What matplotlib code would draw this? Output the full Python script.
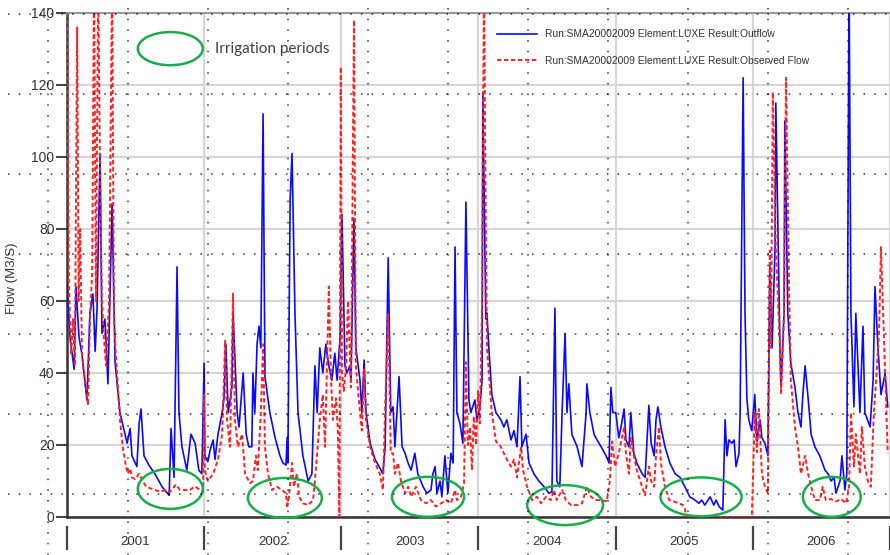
import matplotlib
matplotlib.use("Agg")
import matplotlib.pyplot as plt
from matplotlib.lines import Line2D
from matplotlib.patches import Ellipse
import pandas as pd

# days counted from 2001-01-01
years = [2001, 2002, 2003, 2004, 2005, 2006]

outflow_day = [0, 8, 19, 24, 32, 40, 53, 61, 69, 75, 80, 88, 93, 101, 109, 120, 128, 141, 160, 168,
               173, 186, 192, 197, 205, 218, 234, 253, 272, 277, 285, 293, 298, 306, 319, 330, 341, 351, 359, 365,
               367, 375, 381, 389, 394, 402, 413, 418, 423, 429, 439, 442, 453, 458, 469, 477, 484, 492, 495, 500,
               506, 511, 516, 522, 527, 540, 554, 567, 575, 583, 586, 588, 594, 599, 607, 615, 628, 642, 652, 660,
               666, 673, 681, 689, 697, 705, 713, 719, 727, 732, 740, 745, 753, 756, 764, 769, 780, 785, 791, 796,
               807, 820, 831, 841, 847, 855, 862, 868, 873, 884, 892, 900, 908, 916, 926, 934, 948, 958, 969, 974,
               980, 985, 993, 998, 1006, 1014, 1022, 1028, 1033, 1038, 1046, 1054, 1062, 1070, 1075, 1086, 1091, 1099, 1105, 1107,
               1115, 1118, 1123, 1131, 1142, 1155, 1163, 1171, 1182, 1190, 1198, 1206, 1211, 1222, 1230, 1243, 1256, 1270, 1283, 1291,
               1299, 1304, 1312, 1318, 1326, 1331, 1336, 1344, 1358, 1371, 1382, 1384, 1392, 1403, 1411, 1422, 1435, 1443, 1448, 1453,
               1461, 1469, 1475, 1483, 1488, 1496, 1501, 1509, 1517, 1531, 1539, 1549, 1555, 1563, 1568, 1573, 1581, 1592, 1605, 1619,
               1632, 1645, 1658, 1672, 1682, 1690, 1698, 1712, 1722, 1728, 1736, 1746, 1752, 1757, 1762, 1770, 1776, 1781, 1789, 1792,
               1800, 1805, 1810, 1815, 1823, 1831, 1837, 1845, 1850, 1858, 1866, 1871, 1877, 1885, 1887, 1898, 1901, 1909, 1911, 1919,
               1927, 1938, 1946, 1954, 1959, 1965, 1973, 1981, 1991, 2004, 2018, 2026, 2034, 2042, 2047, 2058, 2063, 2071, 2076, 2082,
               2087, 2095, 2100, 2111, 2119, 2124, 2138, 2146, 2151, 2159, 2167, 2178, 2185]
outflow = [65, 50, 41, 64, 50, 45, 32.5, 56.5, 62, 46, 58, 101, 51, 55, 37, 87, 43, 29, 20.5, 24.6,
           17, 14, 26, 30, 17, 14.4, 12, 8.4, 6, 24.6, 11, 69.5, 29, 19.5, 13, 23, 20.5, 13, 12, 42.7,
           17, 15.4, 18.6, 21.4, 16, 23, 29, 33, 48, 29, 36, 57, 29, 25, 40, 23, 19.5, 19.5, 40, 29,
           48, 53, 47, 112, 39, 29, 22, 17, 15, 14.4, 22, 15, 88, 101, 56, 29, 17, 10, 12, 42,
           29, 47, 40, 48, 42, 38, 45.5, 38, 50, 84, 42, 40, 42, 38, 83, 47, 38, 29, 43.6, 29,
           20.5, 16, 14, 12, 19.5, 72, 29, 30.6, 19.5, 39, 19.5, 17.7, 15, 13, 17.7, 12, 8.4, 6.6, 7.5, 12,
           14, 6.6, 10, 5.6, 17, 6.6, 17.7, 15, 75, 29, 26, 20.5, 87.5, 32.5, 29, 32.5, 27, 30.6, 38, 118,
           55, 56.6, 47, 34, 29, 27, 25, 27, 21.4, 24, 19.5, 39, 19.5, 23, 15, 12, 10, 8.4, 6.6, 7,
           58, 10, 8.4, 29, 51, 29, 37, 23, 19.5, 14, 29, 37, 29, 23, 21.4, 19.5, 17, 15, 36, 29,
           29, 22, 25, 30, 21.4, 19.5, 29, 17.7, 15, 12, 11, 31, 20.5, 17, 27, 30.6, 25, 19.5, 15, 12,
           11, 8.4, 5.6, 4.7, 3.8, 4.7, 3.3, 5.6, 3.3, 4.7, 2.9, 1.9, 27, 17, 21.4, 20.5, 21.4, 14, 17.7, 29,
           122, 56.6, 33, 27, 24, 34, 21, 27, 22, 20.5, 17, 70, 47, 75, 115, 47, 36, 56.6, 110, 56.6,
           42.7, 36, 29, 25, 34, 42, 33, 23, 19.5, 17, 13, 12, 10, 11, 6.6, 10, 17, 7.5, 12, 150,
           56.6, 30.6, 56.6, 29, 53, 29, 25, 38, 64, 47, 34, 40, 30.6]

observed_day = [0, 5, 11, 16, 21, 27, 31, 35, 40, 45, 51, 56, 61, 67, 72, 77, 83, 88, 93, 98,
                104, 112, 120, 125, 130, 136, 141, 149, 157, 162, 168, 173, 181, 192, 205, 210, 221, 234, 248, 261,
                274, 290, 301, 314, 327, 341, 354, 362, 365, 367, 375, 389, 402, 413, 421, 426, 434, 442, 447, 455,
                466, 474, 487, 495, 503, 508, 516, 522, 527, 535, 546, 559, 572, 583, 586, 591, 599, 604, 612, 618,
                628, 642, 655, 660, 666, 673, 681, 687, 692, 697, 703, 708, 716, 721, 725, 729, 732, 737, 743, 748,
                756, 764, 769, 780, 785, 791, 796, 807, 820, 833, 841, 847, 855, 862, 868, 873, 881, 889, 900, 908,
                916, 929, 942, 956, 969, 982, 996, 1009, 1022, 1033, 1038, 1049, 1057, 1062, 1067, 1073, 1078, 1083, 1089, 1094,
                1099, 1105, 1110, 1115, 1118, 1131, 1142, 1155, 1163, 1171, 1182, 1190, 1198, 1209, 1214, 1225, 1238, 1251, 1262, 1275,
                1288, 1296, 1304, 1318, 1328, 1342, 1358, 1371, 1384, 1395, 1408, 1422, 1437, 1445, 1451, 1459, 1469, 1483, 1488, 1496,
                1501, 1509, 1517, 1531, 1539, 1549, 1555, 1563, 1568, 1576, 1581, 1592, 1603, 1616, 1629, 1640, 1645, 1648, 1823, 1826,
                1831, 1837, 1842, 1850, 1858, 1866, 1871, 1874, 1879, 1887, 1898, 1901, 1909, 1914, 1922, 1927, 1938, 1946, 1954, 1965,
                1973, 1981, 1991, 2004, 2012, 2020, 2034, 2047, 2060, 2074, 2082, 2087, 2095, 2100, 2111, 2116, 2124, 2132, 2140, 2148,
                2154, 2162, 2167, 2178, 2185]
observed = [150, 65, 45, 55, 42, 136, 60, 80, 45, 40, 36, 31, 55, 68, 150, 60, 150, 95, 60, 50,
            42, 60, 150, 55, 45, 35, 27, 19, 14, 12, 13.5, 11, 10.5, 12, 9.4, 8.5, 8, 7.5, 7, 7.5,
            7, 9, 7.5, 7.5, 7.5, 8.5, 7.5, 7, 34, 13, 10, 12, 16, 23, 49, 27, 19.5, 62, 27, 19.5,
            23, 12, 9.4, 10, 17, 13, 29, 48, 19.5, 12, 7.5, 8.4, 7.5, 6.6, 2.4, 5.6, 15, 8.4, 12, 5.6,
            3.8, 3.3, 4.7, 10, 17.7, 27, 34, 19.5, 42, 64, 38, 27, 33, 24, 0, 125, 40, 35, 42, 60,
            36, 138, 42, 29, 24, 41, 27, 19.5, 15, 12, 7.5, 30.6, 56.6, 17.7, 17.7, 12, 15, 10, 6.6, 8.4,
            5.6, 8.4, 4.7, 3.8, 4.7, 2.9, 3.8, 4.7, 3.8, 7.5, 4.7, 5.6, 9.4, 43, 20, 25, 13, 28, 20, 35,
            26, 60, 150, 80, 47, 29, 21, 19.5, 17.7, 16, 14, 16, 11, 19.5, 13, 8.4, 4.7, 5.6, 3.8, 5.6,
            4.7, 7.5, 4.7, 7.5, 4.7, 3.3, 3.3, 3.8, 8.4, 5.6, 4.7, 4.7, 4.3, 10, 21, 14, 17.7, 25, 17.7, 12,
            22, 17, 13, 8.4, 6, 14, 10, 8.4, 17, 25, 15, 8.4, 4.7, 4.3, 3.8, 3.3, 2.4, 0, 0, 10,
            29, 18, 30, 12, 8.4, 6.6, 74, 47, 118, 75, 47, 34, 57, 122, 66, 38, 25, 19.5, 12, 17,
            12, 8.4, 4.7, 4.7, 8.4, 4.7, 5, 4.3, 5, 3.8, 8.4, 29, 14, 23, 12, 25, 14, 10, 8.4, 29,
            38, 52, 75, 40, 17.7]

# irrigation periods (centre day, centre flow, width in days, height in flow)
irr_day = [275, 580, 961, 1326, 1688, 2036]
irr_flow = [7.8, 5.3, 5.6, 3.3, 5.6, 5.6]
irr_width = [173, 197, 192, 202, 216, 154]
irr_height = [11.1, 11.1, 11.1, 11.1, 10.8, 11.1]

labels = ["Run:SMA20002009 Element:LUXE Result:Outflow",
          "Run:SMA20002009 Element:LUXE Result:Observed Flow"]

W, H = 890, 555
fig = plt.figure(figsize=(W / 100, H / 100), dpi=100)
ax = fig.add_axes([67 / W, 38 / H, 823 / W, 504 / H])

start = pd.Timestamp("2001-01-01")
bounds = [(pd.Timestamp(f"{y}-01-01") - start).days for y in years + [years[-1] + 1]]
mids = [(a + b) / 2 for a, b in zip(bounds[:-1], bounds[1:])]

ax.plot(outflow_day, outflow, color="#0a0aff", lw=1.2, label=labels[0], zorder=3)
ax.plot(observed_day, observed, color="#ff2020", lw=1.4, ls=(0, (2.2, 1.4)), label=labels[1], zorder=4)

ax.set_xlim(bounds[0], bounds[-1])
ax.set_ylim(0, 140)
ax.set_yticks(range(0, 141, 20))
ax.set_xticks(bounds)
ax.tick_params(axis="x", length=0, labelbottom=False)
ax.tick_params(axis="y", length=8, width=1.5, color="#444444", labelsize=10,
               labelcolor="#333333", pad=1)
for lab in ax.get_yticklabels():
    lab.set_family("Liberation Sans")
ax.grid(True, color="#d6d6d6", lw=1.6)
ax.set_axisbelow(True)

for s in ["left", "bottom"]:
    ax.spines[s].set_color("#333333")
    ax.spines[s].set_linewidth(1.8)
ax.spines["top"].set_color("#999999")
ax.spines["top"].set_linewidth(1.5)
ax.spines["right"].set_visible(False)

ax.set_ylabel("Flow (M3/S)", fontsize=9.5, color="#333333", family="Liberation Sans")
ax.yaxis.set_label_coords(-0.0595, 0.474)

# year ticks and labels below the axis
sec = ax.secondary_xaxis(-0.018)
sec.spines["bottom"].set_visible(False)
sec.set_xticks(bounds)
sec.set_xticks(mids, minor=True)
sec.set_xticklabels([""] * len(bounds))
sec.set_xticklabels([str(y) for y in years], minor=True, fontsize=9.5,
                    color="#333333", family="Liberation Sans")
sec.tick_params(which="major", length=17, width=1.6, color="#444444")
sec.tick_params(which="minor", length=0, pad=7)

for d, f, w, h in zip(irr_day, irr_flow, irr_width, irr_height):
    ax.add_patch(Ellipse((d, f), w, h, fill=False, ec="#1aab4b", lw=1.8, clip_on=False, zorder=5))
ax.add_patch(Ellipse((275, 130.1), 173, 9.2, fill=False, ec="#1aab4b", lw=1.8, clip_on=False, zorder=5))
ax.text(395, 130.1, "Irrigation periods", fontsize=11, family="Lato", color="#404040",
        va="center", ha="left")

leg = ax.legend(loc="upper left", bbox_to_anchor=(0.5225, 0.968), frameon=False,
                handlelength=3.9, handletextpad=0.8, labelspacing=1.6,
                borderpad=0, borderaxespad=0, prop={"family": "Liberation Sans", "size": 7.4})
for t in leg.get_texts():
    t.set_color("#333333")

# dotted overlay grid of the screenshot
for k in range(7):
    y = 1 - (14 + 80 * k) / H
    fig.add_artist(Line2D([8 / W, 1], [y, y], transform=fig.transFigure, color="black",
                          lw=1.1, ls=(0, (1, 6)), alpha=0.8, zorder=1))
for k in range(11):
    x = (48 + 80 * k) / W
    fig.add_artist(Line2D([x, x], [0, 1], transform=fig.transFigure, color="black",
                          lw=1.1, ls=(0, (1, 6)), alpha=0.8, zorder=1))

fig.savefig("out.png", dpi=100)
